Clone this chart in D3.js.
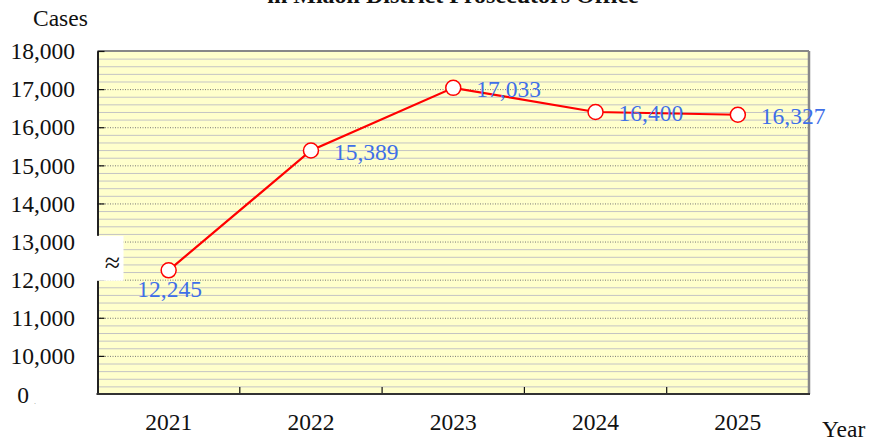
<!DOCTYPE html>
<html>
<head>
<meta charset="utf-8">
<script src="https://cdn.jsdelivr.net/npm/d3@7"></script>
<style>
  html, body { margin: 0; padding: 0; background: #fff; }
  svg text { font-family: 'Liberation Serif', 'DejaVu Serif', serif !important; }
</style>
</head>
<body>
<div class="chart"></div>
<script>
// DATA ***********************************************************************
const years = ['2021', '2022', '2023', '2024', '2025'];
const cases = [12245, 15389, 17033, 16400, 16327];
const yTicks = [9000, 10000, 11000, 12000, 13000, 14000, 15000, 16000, 17000, 18000];
const yTickLabels = ['0', '10,000', '11,000', '12,000', '13,000', '14,000', '15,000', '16,000', '17,000', '18,000'];
const minorStep = 200;
const titleText = 'in Miaoli District Prosecutors Office';

// LAYOUT *********************************************************************
const width = 869, height = 441;
const plotL = 97.5, plotR = 809, plotT = 51, plotB = 394;
const fontSize = 23.5;

const svg = d3.select('.chart').append('svg')
  .attr('width', width)
  .attr('height', height);

const x = d3.scaleBand().domain(years).range([plotL, plotR]);
const y = d3.scaleLinear().domain([yTicks[0], yTicks[yTicks.length - 1]]).range([plotB, plotT]);

// plot background
svg.append('rect')
  .attr('x', plotL).attr('y', plotT)
  .attr('width', plotR - plotL).attr('height', plotB - plotT)
  .attr('fill', '#ffffcc');

// minor grid (every 200, skip the thousands)
const minorVals = d3.range(yTicks[0], yTicks[yTicks.length - 1], minorStep).filter(v => v % 1000 !== 0);
svg.append('g')
  .attr('transform', `translate(${plotL},0)`)
  .call(d3.axisLeft(y).tickValues(minorVals).tickSize(-(plotR - plotL)).tickFormat(''))
  .call(g => g.select('.domain').remove())
  .call(g => g.selectAll('line').attr('stroke', '#c4c4c4').attr('stroke-width', 1));

// major grid (dotted)
svg.append('g')
  .attr('transform', `translate(${plotL},0)`)
  .call(d3.axisLeft(y).tickValues(yTicks.slice(1, -1)).tickSize(-(plotR - plotL)).tickFormat(''))
  .call(g => g.select('.domain').remove())
  .call(g => g.selectAll('line').attr('stroke', '#777').attr('stroke-width', 1).attr('stroke-dasharray', '1,1.5'));

// frame: top + right gray, left + bottom dark
svg.append('line').attr('x1', plotL).attr('x2', plotR).attr('y1', plotT).attr('y2', plotT)
  .attr('stroke', '#888').attr('stroke-width', 2);
svg.append('line').attr('x1', plotR).attr('x2', plotR).attr('y1', plotT).attr('y2', plotB)
  .attr('stroke', '#888').attr('stroke-width', 2.5);

// Y AXIS
const yAxis = svg.append('g')
  .attr('transform', `translate(${plotL},0)`)
  .call(d3.axisLeft(y)
    .tickValues(yTicks)
    .tickSizeInner(-7)
    .tickSizeOuter(0)
    .tickPadding(22.5)
    .tickFormat((d, i) => yTickLabels[i]));
yAxis.attr('font-family', null);
yAxis.select('.domain').attr('stroke', '#222').attr('stroke-width', 2);
yAxis.selectAll('line').attr('stroke', '#111').attr('stroke-width', 1.2);
yAxis.selectAll('text')
  .attr('font-size', fontSize)
  .attr('fill', '#111')
  .attr('dy', '0.33em');
// the "0" label sits further left, below the break
yAxis.selectAll('.tick').filter(d => d === yTicks[0]).select('text')
  .attr('x', -(plotL - 29)).attr('dy', '0.38em');
yAxis.selectAll('.tick').filter(d => d === yTicks[0]).select('line').remove();

// X AXIS
const xAxis = svg.append('g')
  .attr('transform', `translate(0,${plotB})`)
  .call(d3.axisBottom(x).tickSize(0).tickPadding(19.5));
xAxis.attr('font-family', null);
xAxis.select('.domain').remove();
xAxis.selectAll('text')
  .attr('font-size', fontSize)
  .attr('fill', '#111');

// category boundary ticks (inside, pointing up)
svg.append('g').selectAll('line')
  .data(years.slice(1))
  .join('line')
  .attr('x1', d => x(d)).attr('x2', d => x(d))
  .attr('y1', plotB).attr('y2', plotB - 7)
  .attr('stroke', '#111').attr('stroke-width', 1.2);

svg.append('line').attr('x1', plotL - 1).attr('x2', plotR + 1).attr('y1', plotB).attr('y2', plotB)
  .attr('stroke', '#333').attr('stroke-width', 2);

// axis break between 0 and 10,000
svg.append('rect')
  .attr('x', plotL - 1).attr('y', y(13150))
  .attr('width', 27).attr('height', y(11970) - y(13150))
  .attr('fill', '#fff');
svg.append('text')
  .attr('x', plotL + 15).attr('y', y(12200))
  .attr('text-anchor', 'middle')
  .attr('font-size', 28)
  .attr('fill', '#111')
  .text('\u2248');
svg.append('text')
  .attr('x', 34).attr('y', plotB + 10)
  .attr('font-size', 8)
  .attr('fill', '#999')
  .text('.');

// LINE + MARKERS
const line = d3.line()
  .x((d, i) => x(years[i]) + x.bandwidth() / 2)
  .y(d => y(d));

svg.append('path')
  .datum(cases)
  .attr('d', line)
  .attr('fill', 'none')
  .attr('stroke', '#ff0000')
  .attr('stroke-width', 2.2);

svg.append('g').selectAll('circle')
  .data(cases)
  .join('circle')
  .attr('cx', (d, i) => x(years[i]) + x.bandwidth() / 2)
  .attr('cy', d => y(d))
  .attr('r', 7.5)
  .attr('fill', '#fff')
  .attr('stroke', '#ff0000')
  .attr('stroke-width', 1.5);

// value labels
const fmt = d3.format(',');
svg.append('g').selectAll('text')
  .data(cases)
  .join('text')
  .attr('x', (d, i) => x(years[i]) + x.bandwidth() / 2 + (i === 0 ? 1 : 23))
  .attr('y', (d, i) => y(d) + (i === 0 ? 27 : 9.5))
  .attr('text-anchor', (d, i) => i === 0 ? 'middle' : 'start')
  .attr('font-size', fontSize)
  .attr('fill', '#3f6fe8')
  .text(d => fmt(d));

// TEXTS
svg.append('text')
  .attr('x', 33).attr('y', 26)
  .attr('font-size', fontSize)
  .attr('fill', '#111')
  .text('Cases');

svg.append('text')
  .attr('x', 822).attr('y', 437)
  .attr('font-size', fontSize)
  .attr('fill', '#111')
  .text('Year');

svg.append('text')
  .attr('x', 453).attr('y', 3)
  .attr('text-anchor', 'middle')
  .attr('font-size', 24)
  .attr('font-weight', 'bold')
  .attr('fill', '#111')
  .text(titleText);
</script>
</body>
</html>
